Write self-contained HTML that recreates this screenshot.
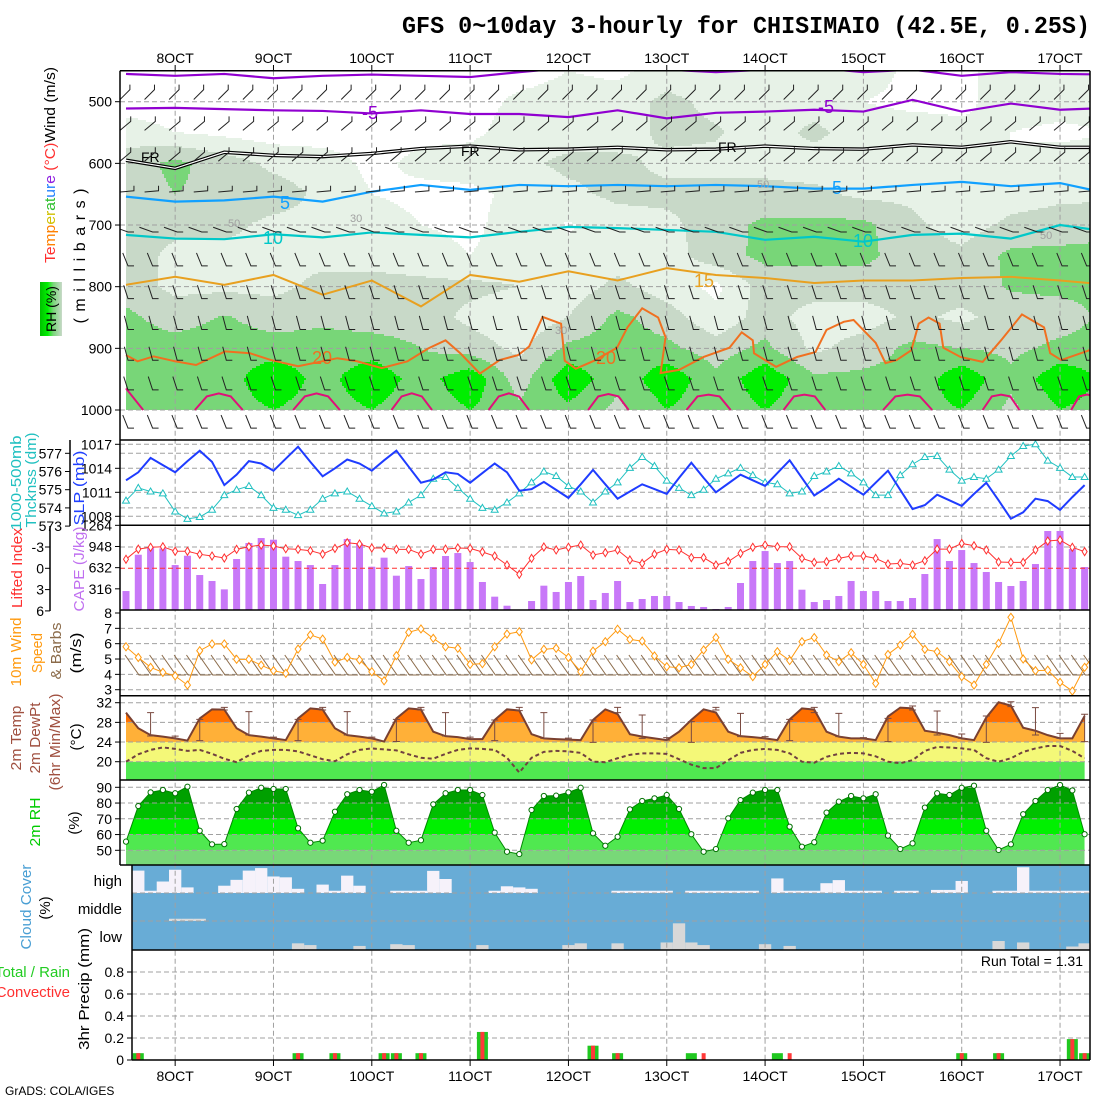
<!DOCTYPE html>
<html><head><meta charset="utf-8">
<style>
body{margin:0;background:#fff;width:1100px;height:1100px;overflow:hidden}
svg{display:block;font-family:"Liberation Sans",sans-serif}
</style></head>
<body>
<svg id="chart" width="1100" height="1100" viewBox="0 0 1100 1100">
<rect x="0" y="0" width="1100" height="1100" fill="#fff"/>
</svg>
<script>
// ---------------- DATA ----------------
const dayLabels = ["8OCT","9OCT","10OCT","11OCT","12OCT","13OCT","14OCT","15OCT","16OCT","17OCT"];
const dayTickSteps = [4,12,20,28,36,44,52,60,68,76];
const pLevels = [450,500,550,600,650,700,750,800,850,900,950,1000];
const pTicks = [500,600,700,800,900,1000];
const rhGrid = [
[20,20,40,60,60,60,60,60,75,80,80,80],
[20,20,30,75,70,55,45,45,60,80,80,80],
[20,20,25,60,65,55,45,45,72,82,80,80],
[20,20,20,45,60,45,45,45,60,80,105,90],
[20,20,20,40,45,45,45,55,65,80,82,80],
[20,20,20,25,30,40,45,55,60,80,105,90],
[20,20,25,35,25,30,40,55,60,70,80,75],
[20,20,25,40,25,25,30,55,45,60,105,90],
[20,35,40,45,35,40,40,50,35,45,60,75],
[30,40,40,55,45,28,35,40,50,75,105,85],
[25,40,40,55,55,40,40,55,75,80,75,65],
[40,55,55,45,55,45,40,40,60,75,105,90],
[35,45,52,45,55,60,62,25,35,60,75,75],
[40,40,40,45,55,75,75,60,60,75,105,90],
[40,40,55,40,55,75,75,60,40,45,75,75],
[40,30,40,40,45,75,75,60,40,60,75,80],
[25,25,40,40,45,55,60,60,55,75,75,80],
[25,25,35,40,30,40,55,60,45,70,105,90],
[40,40,30,30,40,55,75,72,60,65,75,65],
[35,40,25,40,45,60,75,75,60,75,105,90],
[35,40,30,40,45,65,75,75,75,80,85,80]];
const tm10 = [455,458,455,462,458,456,458,460,452,445,445,448,452,448,445,452,448,458,452,455,456];
const tm5  = [511,510,512,514,515,519,514,520,520,525,514,527,518,516,513,516,497,516,503,513,510];
const t0   = [595,608,582,587,589,584,576,572,578,577,574,578,577,572,576,577,570,574,565,574,574];
const t5   = [654,662,660,654,662,646,635,643,635,637,635,637,635,637,641,641,635,630,637,632,649];
const t10  = [716,722,723,715,720,712,716,720,711,703,705,708,711,724,719,727,716,714,722,700,711];
const t15  = [797,784,797,781,813,790,832,781,792,775,790,770,781,786,794,790,790,786,784,790,797];
const t20Step = [0,0.94,2.25,3.99,5.7,8.06,10.09,11.8,14.0,17.2,18.8,20.8,22.9,24.6,26.0,27.2,28.8,30.4,31.9,32.8,33.9,35.4,35.7,36.6,38.1,39.95,40.8,42.0,43.3,43.9,43.5,45.0,47.0,49.1,50.1,51.0,51.1,52.9,54.6,56.1,57.0,58.4,59.2,61.0,61.8,62.7,63.9,64.5,65.3,66.2,66.5,67.9,69.7,71.2,72.9,74.7,75.2,76.1,78.4];
const t20P = [911,921,913,921,927,905,908,919,929,916,921,932,921,900,887,908,941,919,911,897,849,860,920,933,920,899,866,835,850,882,940,935,914,899,874,887,908,930,914,906,870,857,854,891,924,919,903,860,850,860,899,914,922,887,845,866,908,919,903];
const t25Start = [5.6,13.6,21.6,29.5,37.6,45.6,53.5,61.6,69.7,76.9];
const t25End   = [9.5,17.4,24.9,32.8,40.9,49.2,56.9,65.6,72.7,79.5];
const t25Peak  = [973,973,973,973,974,975,975,975,975,975];
const barbRows = [490,540,590,640,700,755,808,858,908,956,1018];
const barbAngle = [-45,-40,-40,-5,-160,-112,-108,-105,-105,-108,-112];

const slp = [1012.5,1013.5,1015.3,1014.4,1013.5,1014.9,1016.2,1014.8,1011.9,1013.2,1014.9,1014.6,1013.7,1015.2,1016.7,1014.8,1013.0,1014.0,1015.1,1014.6,1013.7,1015.0,1016.2,1014.2,1012.2,1012.6,1013.5,1013.3,1012.2,1013.4,1014.6,1013.5,1011.2,1011.4,1012.3,1011.3,1010.3,1012.0,1013.8,1012.0,1010.2,1011.1,1012.0,1011.4,1010.8,1012.8,1014.7,1012.8,1011.0,1012.1,1013.2,1012.5,1011.8,1013.4,1015.0,1012.8,1010.6,1011.6,1012.7,1011.7,1010.7,1012.2,1013.7,1011.3,1008.9,1009.4,1010.7,1010.0,1009.3,1010.8,1012.2,1010.0,1007.7,1008.5,1010.2,1009.9,1008.8,1010.4,1011.9];
const thick = [574.4,575.1,574.9,574.8,573.8,573.4,573.5,573.9,574.7,575.0,575.2,574.7,574.0,573.9,573.6,573.9,574.5,574.8,574.9,574.5,574.1,573.7,573.8,574.3,574.7,575.6,575.7,575.1,574.5,574.0,573.9,574.3,574.8,575.4,576.0,575.75,575.2,574.9,574.3,574.9,575.4,576.2,576.8,576.3,575.5,575.1,574.7,575.0,575.6,575.9,576.2,575.8,575.4,575.3,574.8,574.9,575.75,576.0,576.3,575.9,575.4,574.7,574.7,575.8,576.4,576.8,576.85,576.1,575.5,575.7,575.6,576.1,576.85,577.4,577.5,576.6,576.2,575.7,575.7];
const slpTicks = [1017,1014,1011,1008];
const thickTicks = [577,576,575,574,573];
const cape = [283,825,935,920,671,810,522,433,308,761,1000,1074,1049,796,731,671,388,671,1059,995,646,781,512,656,462,641,806,850,716,418,199,64,0,134,363,269,418,507,149,254,433,119,164,209,209,119,60,45,15,45,403,731,880,701,731,303,119,149,209,433,283,283,134,134,179,537,1059,731,895,701,567,418,358,433,686,1179,1179,910,641];
const liftedIndex = [-1.27,-2.7,-2.96,-3.04,-2.4,-2.4,-1.97,-1.73,-1.45,-2.67,-3.04,-3.28,-3.14,-2.76,-2.67,-2.48,-2.0,-2.8,-3.6,-3.42,-2.86,-2.86,-2.67,-2.67,-2.0,-2.67,-2.7,-2.86,-2.8,-2.3,-1.73,-0.46,0.85,-1.4,-3.0,-2.58,-2.96,-3.28,-1.87,-2.2,-2.58,-1.17,-0.7,-2.0,-2.67,-2.58,-1.5,-1.5,-0.46,-0.93,-2.1,-2.96,-3.28,-3.04,-3.04,-1.4,-0.84,-0.93,-1.4,-1.73,-1.73,-1.4,-0.6,-0.7,-0.46,-1.07,-2.7,-2.7,-3.5,-3.18,-2.58,-0.89,-0.84,-0.84,-2.58,-3.84,-3.98,-2.96,-2.34];
const liTicks = ["-3","0","3","6"];
const capeTicks = [1264,948,632,316];
const windSpeed = [5.8,5.1,4.46,4.13,3.9,3.3,5.54,5.98,5.98,4.98,4.98,4.6,4.24,4.07,5.65,6.57,6.3,4.8,5.1,4.94,4.17,3.58,5.22,6.74,6.96,6.35,5.8,5.7,4.65,4.7,5.8,6.63,6.78,4.94,5.63,5.7,5.1,4.17,5.52,6.13,6.94,6.28,6.17,5.2,4.5,4.43,4.65,5.59,6.4,4.98,4.43,3.85,4.65,5.48,4.9,6.13,6.4,5.26,4.83,5.41,4.65,3.41,5.3,5.91,6.61,5.63,5.48,4.83,3.85,3.3,4.65,6.02,7.72,5.0,4.24,4.27,3.48,2.91,4.46,5.5];
const windTicks = [8,7,6,5,4,3];
const temp2m = [29.97,26.8,25.4,25.1,24.75,24.3,28.8,30.65,30.6,26.8,25.4,25.1,24.75,24.4,28.8,30.85,30.6,26.8,25.4,25.1,24.75,24.1,28.8,30.85,30.6,26.1,25.2,25.0,24.6,24.6,28.5,30.65,30.4,25.6,24.75,24.6,24.5,24.4,28.5,30.65,29.7,25.6,25.1,24.75,24.4,26.1,28.5,30.65,30.0,26.1,25.2,25.0,24.75,24.4,28.6,30.85,30.6,26.1,25.1,24.75,24.75,24.4,29.2,31.0,30.85,26.3,25.9,25.4,24.75,24.4,29.0,32.1,31.4,26.9,26.3,25.4,24.75,24.75,29.3];
const dew2m = [20.0,21.5,22.4,22.9,22.6,22.2,22.4,21.6,20.6,19.9,21.3,22.2,22.4,22.4,22.1,21.3,20.5,20.1,21.5,22.4,22.7,22.5,22.3,21.5,20.8,20.6,21.6,22.4,22.7,22.6,22.4,20.8,17.8,20.8,22.0,22.2,22.1,21.8,20.0,19.9,20.7,21.4,21.7,21.7,21.6,20.5,19.4,18.7,18.7,20.3,21.8,22.4,22.6,22.4,21.7,20.0,19.8,21.0,21.6,21.8,21.7,21.1,20.0,19.7,20.3,22.2,23.0,22.9,22.7,22.4,20.7,20.0,20.7,22.0,22.7,23.2,23.2,22.2,20.7];
const tMax6 = [null,29.97,25.2,28.6,31.06,30.18,25.0,28.6,31.06,30.18,25.0,28.6,31.06,29.97,25.0,28.48,31.06,29.97,24.8,28.48,31.06,29.5,24.9,28.14,31.06,29.84,25.09,28.6,31.06,29.84,24.9,28.82,31.33,30.31,25.63,29.3,32.2,30.99,25.77,29.64];
const tMin6 = [null,25.23,24.75,24.28,30.52,25.43,24.75,24.28,30.52,25.43,24.75,24.1,30.52,25.23,24.6,24.28,30.4,24.75,24.5,23.94,29.97,24.75,24.4,23.94,30.52,25.09,24.75,24.28,29.97,25.09,24.75,24.08,30.52,25.43,24.75,23.94,31.19,25.43,24.75,24.08];
const tempTicks = [32,28,24,20];
const rh2m = [55.5,78.1,86.8,88.3,86.2,90.4,62.4,53.8,53.9,76.2,86.6,89.7,88.9,88.9,64.0,54.8,56.1,74.5,85.6,88.3,87.2,91.5,62.4,54.8,56.4,79.2,86.2,88.3,88.3,85.1,61.2,49.1,47.6,75.6,84.5,84.7,86.8,89.7,60.8,52.9,58.6,76.0,81.3,83.0,85.1,76.2,60.2,49.1,50.8,70.3,81.9,86.6,88.3,88.3,65.0,52.3,55.1,73.9,80.9,84.5,83.0,85.6,59.3,50.8,54.4,77.1,86.2,85.1,89.7,91.0,62.4,50.2,53.8,72.9,81.3,88.3,91.5,88.0,60.2];
const rhTicks = [90,80,70,60,50];
const cloudHigh = [0,80,8,41,83,20,0,0,26,47,80,89,59,56,15,0,30,8,62,26,0,0,8,8,8,79,50,0,0,0,8,24,20,15,0,0,0,0,0,0,8,8,8,8,8,0,8,8,8,8,8,8,0,52,8,8,8,35,46,8,8,8,0,8,8,0,11,11,43,0,0,8,8,92,8,8,8,8,8];
const cloudMid = [0,0,0,0,8,8,8,0,0,0,0,0,0,0,0,0,0,0,0,0,0,0,0,0,0,0,0,0,0,0,0,0,0,0,0,0,0,0,0,0,0,0,0,0,0,0,0,0,0,0,0,0,0,0,0,0,0,0,0,0,0,0,0,0,0,0,0,0,0,0,0,0,0,0,0,0,0,0,0];
const cloudLow = [0,0,0,0,0,0,0,0,0,0,0,0,0,0,23,17,0,0,0,14,0,0,20,17,0,0,0,0,0,17,0,0,0,0,0,0,17,23,0,0,23,0,0,0,26,92,26,17,0,0,0,0,20,0,14,0,0,0,0,0,0,0,0,0,0,0,0,0,0,0,0,31,0,26,0,0,0,12,23];
const precipTotal = [0,0.062,0,0,0,0,0,0,0,0,0,0,0,0,0.062,0,0,0.062,0,0,0,0.062,0.062,0,0.062,0,0,0,0,0.255,0,0,0,0,0,0,0,0,0.13,0,0.062,0,0,0,0,0,0.062,0,0,0,0,0,0,0.062,0,0,0,0,0,0,0,0,0,0,0,0,0,0,0.062,0,0,0.062,0,0,0,0,0,0.19,0.062];
const precipConv  = [0,0.062,0,0,0,0,0,0,0,0,0,0,0,0,0.062,0,0,0.062,0,0,0,0.062,0.062,0,0.062,0,0,0,0,0.255,0,0,0,0,0,0,0,0,0.13,0,0.062,0,0,0,0,0,0,0.062,0,0,0,0,0,0,0.062,0,0,0,0,0,0,0,0,0,0,0,0,0,0.062,0,0,0.062,0,0,0,0,0,0.19,0.062];
const precipTicks = ["0.8","0.6","0.4","0.2","0"];
const precipTickVals = [0.8,0.6,0.4,0.2,0];
const runTotal = "1.31";

// ---------------- HELPERS ----------------
const svg = document.getElementById('chart');
const NS = 'http://www.w3.org/2000/svg';
function mk(parent, tag, attrs, name){
  const el = document.createElementNS(NS, tag);
  for (const k in attrs) { el.setAttribute(k, attrs[k]); }
  
  
  parent.appendChild(el);
  return el;
}
function txt(parent, x, y, s, attrs, name){
  const el = mk(parent, 'text', Object.assign({x:x, y:y}, attrs), name);
  el.textContent = s;
  return el;
}
const xs = i => 126 + 12.29 * i;
const yP = p => 101.7 + (p - 500) * 0.6166;
const ySLP = v => 444.3 + (1017 - v) * 8.0;
const yTh = v => 453.3 + (577 - v) * 18.2;
const yLI = v => 568.3 + v * 7.1;
const yCape = v => 610 - v * 0.067;
const yW = v => 613 + (8 - v) * 15.34;
const yT = v => 702.7 + (32 - v) * 4.917;
const yRH = v => 787.3 + (90 - v) * 1.575;
const yPr = v => 1060 - v * 110;

const defs = mk(svg, 'defs', {}, 'definitions');
function clip(id, x, y, w, h){
  const c = mk(defs, 'clipPath', {id:id}, id);
  mk(c, 'rect', {x:x, y:y, width:w, height:h}, id + '-rect');
}
clip('clipTop', 120, 70.7, 970, 369.3);
clip('clipSLP', 120, 440, 970, 85.3);
clip('clipW', 120, 610, 970, 85.7);

// ---------------- TOP PANEL RH FILL ----------------
const gRH = mk(svg, 'g', {'clip-path':'url(#clipTop)'}, 'rh-contour-fill');
const rhColors = ['none','#e7f2e7','#c8d9c8','#78d678','#00ee00'];
function rhAt(s, p){
  let c = s / 4, l = (p - 450) / 50;
  c = Math.max(0, Math.min(19.999, c));
  l = Math.max(0, Math.min(10.999, l));
  const c0 = Math.floor(c), l0 = Math.floor(l), fc = c - c0, fl = l - l0;
  const a = rhGrid[c0][l0] * (1 - fc) + rhGrid[c0 + 1][l0] * fc;
  const b = rhGrid[c0][l0 + 1] * (1 - fc) + rhGrid[c0 + 1][l0 + 1] * fc;
  return a * (1 - fl) + b * fl;
}
function cls(v){ return v < 30 ? 0 : v < 50 ? 1 : v < 70 ? 2 : v < 90 ? 3 : 4; }
for (let y = 70; y < 410; y += 2){
  const p = 450 + (y + 1 - 70.7) / 0.6166;
  let start = 126, cur = null;
  for (let x = 126; x <= 1092; x += 2){
    const c = x < 1090 ? cls(rhAt((x + 1 - 126) / 12.29, p)) : -1;
    if (c !== cur){
      if (cur > 0) mk(gRH, 'rect', {x:start, y:y, width:x - start, height:2, fill:rhColors[cur]}, 'rh-cell');
      start = x; cur = c;
    }
  }
}

// ---------------- PANEL FILLS (temp, rh, cloud) ----------------
const tempArea = 'M' + xs(0) + ',780 ' + temp2m.map((v,i)=>'L' + xs(i) + ',' + yT(v)).join(' ') + ' L' + xs(78) + ',780 Z';
const tc = mk(defs, 'clipPath', {id:'clipTemp'}, 'temp-clip');
mk(tc, 'path', {d:tempArea}, 'temp-clip-shape');
const gTF = mk(svg, 'g', {}, 'temp-fill');
mk(gTF, 'rect', {x:xs(0), y:yT(20), width:xs(78)-xs(0), height:780-yT(20), fill:'#50e850'}, 'temp-band-below-20');
mk(gTF, 'rect', {x:xs(0), y:yT(24), width:xs(78)-xs(0), height:yT(20)-yT(24), fill:'#f4f878'}, 'temp-band-20-24');
const gTC = mk(gTF, 'g', {'clip-path':'url(#clipTemp)'}, 'temp-area');
mk(gTC, 'rect', {x:xs(0), y:yT(28), width:xs(78)-xs(0), height:yT(24)-yT(28), fill:'#ffb038'}, 'temp-band-24-28');
mk(gTC, 'rect', {x:xs(0), y:696, width:xs(78)-xs(0), height:yT(28)-696, fill:'#ff7000'}, 'temp-band-above-28');
const rhArea = 'M' + xs(0) + ',865 ' + rh2m.map((v,i)=>'L' + xs(i) + ',' + yRH(v)).join(' ') + ' L' + xs(78) + ',865 Z';
const rc = mk(defs, 'clipPath', {id:'clipRH'}, 'rh-clip');
mk(rc, 'path', {d:rhArea}, 'rh-clip-shape');
const gRF = mk(svg, 'g', {'clip-path':'url(#clipRH)'}, 'rh2m-fill');
const rhBands = [[40,50,'#78d878'],[50,60,'#50e850'],[60,70,'#00f000'],[70,80,'#00c000'],[80,100,'#00a000']];
rhBands.forEach(b => mk(gRF, 'rect', {x:xs(0), y:yRH(b[1]), width:xs(78)-xs(0), height:yRH(b[0])-yRH(b[1]), fill:b[2]}, 'rh-band'));
const gCl = mk(svg, 'g', {}, 'cloud-cover');
mk(gCl, 'rect', {x:132, y:865, width:958, height:85, fill:'#68acd6'}, 'cloud-background');
function cloudRow(arr, base, h, col, nm){
  arr.forEach((v,k)=>{ if (v > 0) mk(gCl, 'rect', {x:xs(k)-6.15, y:base - v/100*h, width:12.3, height:v/100*h, fill:col}, nm); });
}
cloudRow(cloudHigh, 893, 28, '#f6f2fa', 'cloud-high-block');
cloudRow(cloudMid, 921, 28, '#dcdcdc', 'cloud-middle-block');
cloudRow(cloudLow, 950, 29, '#d8d8d8', 'cloud-low-block');

// ---------------- GRID ----------------
const gGrid = mk(svg, 'g', {stroke:'#a0a0a0', 'stroke-width':1, 'stroke-dasharray':'5,3', fill:'none'}, 'grid');
dayTickSteps.forEach(s => mk(gGrid, 'line', {x1:xs(s), y1:70.7, x2:xs(s), y2:1060}, 'day-gridline'));
pTicks.forEach(p => mk(gGrid, 'line', {x1:120, y1:yP(p), x2:1090, y2:yP(p)}, 'pressure-gridline'));
slpTicks.forEach(v => mk(gGrid, 'line', {x1:120, y1:ySLP(v), x2:1090, y2:ySLP(v)}, 'slp-gridline'));
[577,574].forEach(v => mk(gGrid, 'line', {x1:120, y1:yTh(v), x2:1090, y2:yTh(v)}, 'thickness-gridline'));
mk(gGrid, 'line', {x1:120, y1:yLI(-3), x2:1090, y2:yLI(-3)}, 'li-gridline');
[7,6,5,4,3].forEach(v => mk(gGrid, 'line', {x1:120, y1:yW(v), x2:1090, y2:yW(v)}, 'wind-gridline'));
tempTicks.forEach(v => mk(gGrid, 'line', {x1:120, y1:yT(v), x2:1090, y2:yT(v)}, 'temp-gridline'));
rhTicks.forEach(v => mk(gGrid, 'line', {x1:120, y1:yRH(v), x2:1090, y2:yRH(v)}, 'rh-gridline'));
[893,921].forEach(y => mk(gGrid, 'line', {x1:132, y1:y, x2:1090, y2:y}, 'cloud-gridline'));
[0.8,0.6,0.4,0.2].forEach(v => mk(gGrid, 'line', {x1:132, y1:yPr(v), x2:1090, y2:yPr(v)}, 'precip-gridline'));

// ---------------- TOP PANEL LINES ----------------
const gTL = mk(svg, 'g', {'clip-path':'url(#clipTop)', fill:'none'}, 'temperature-contours');
function colLine(arr, col, w, nm){
  const pts = arr.map((p,c)=> xs(c*4) + ',' + yP(p)).join(' ');
  return mk(gTL, 'polyline', {points:pts, stroke:col, 'stroke-width':w}, nm);
}
colLine(tm10, '#9000d0', 2.2, 'contour-minus10');
colLine(tm5, '#9000d0', 2.2, 'contour-minus5');
colLine(t0, '#000', 3.5, 'contour-freezing-outer');
colLine(t0, '#fff', 1.2, 'contour-freezing-inner');
colLine(t5, '#10a0ff', 2.2, 'contour-5');
colLine(t10, '#00c8c8', 2.2, 'contour-10');
colLine(t15, '#e8a020', 2, 'contour-15');
mk(gTL, 'polyline', {points:t20Step.map((s,k)=> xs(s) + ',' + yP(t20P[k])).join(' '), stroke:'#f07020', 'stroke-width':2}, 'contour-20');
mk(gTL, 'polyline', {points: xs(0)+','+yP(965)+' '+xs(1.4)+','+yP(1000), stroke:'#e0107a', 'stroke-width':2}, 'contour-25');
t25Start.forEach((s,k)=>{
  const e = t25End[k], w = e - s, pk = t25Peak[k];
  const pts = [[s,1000],[s+0.25*w,978],[s+0.5*w,pk],[e-0.25*w,978],[e,1000]].map(q=> xs(q[0]) + ',' + yP(q[1])).join(' ');
  mk(gTL, 'polyline', {points:pts, stroke:'#e0107a', 'stroke-width':2}, 'contour-25');
});
const gCL = mk(svg, 'g', {'font-size':18}, 'contour-labels');
[[362,119,'-5','#9000d0'],[818,113,'-5','#9000d0'],[141,162,'FR','#000'],[461,156,'FR','#000'],[718,152,'FR','#000'],
 [280,209,'5','#10a0ff'],[832,194,'5','#10a0ff'],[263,244,'10','#00c8c8'],[853,247,'10','#00c8c8'],[694,287,'15','#e8a020'],
 [312,364,'20','#f07020'],[596,364,'20','#f07020']].forEach(l => {
  const t = txt(gCL, l[0], l[1], l[2], {fill:l[3]}, 'contour-label');
  if (l[2] === 'FR') { t.setAttribute('font-size', 14); }
});
[[228,227,'50'],[350,222,'30'],[555,334,'30'],[1040,239,'50'],[757,188,'50']].forEach(l => txt(gCL, l[0], l[1], l[2], {fill:'#a0a0a0', 'font-size':11}, 'rh-contour-label'));

// top wind barbs
const gB = mk(svg, 'g', {'clip-path':'url(#clipTop)', stroke:'#222', 'stroke-width':1, fill:'none'}, 'upper-wind-barbs');
barbRows.forEach((p,r)=>{
  const a = barbAngle[r] * Math.PI / 180, L = 14;
  for (let s = 0; s <= 80; s += 2){
    const ang = barbAngle[r];
    let d;
    if (ang > -90) {
      const ax = xs(s) - 6, ay = yP(p) + 4;
      const bx = ax + L * Math.cos(a), by = ay + L * Math.sin(a);
      d = 'M' + ax + ',' + ay + ' L' + bx + ',' + by + ' l0,-5';
    } else {
      const ax = xs(s) + 2, ay = yP(p) + 7;
      const bx = ax + L * Math.cos(a), by = ay + L * Math.sin(a);
      d = 'M' + bx + ',' + by + ' L' + ax + ',' + ay + ' l6,0';
    }
    mk(gB, 'path', {d:d}, 'wind-barb');
  }
});

// ---------------- SLP / THICKNESS ----------------
const gS = mk(svg, 'g', {'clip-path':'url(#clipSLP)', fill:'none'}, 'slp-thickness');
mk(gS, 'polyline', {points:thick.map((v,i)=> xs(i)+','+yTh(v)).join(' '), stroke:'#20c0c0', 'stroke-width':1}, 'thickness-line');
thick.forEach((v,i)=>{ const x = xs(i), y = yTh(v);
  mk(gS, 'path', {d:'M'+x+','+(y-3.5)+' L'+(x+3.5)+','+(y+2.5)+' L'+(x-3.5)+','+(y+2.5)+' Z', stroke:'#20c0c0', fill:'#fff'}, 'thickness-marker'); });
mk(gS, 'polyline', {points:slp.map((v,i)=> xs(i)+','+ySLP(v)).join(' '), stroke:'#1f3cff', 'stroke-width':2}, 'slp-line');

// ---------------- CAPE / LI ----------------
const gC = mk(svg, 'g', {}, 'cape-li');
cape.forEach((v,i)=>{ if (v > 0) mk(gC, 'rect', {x:xs(i)-3.5, y:yCape(v), width:7, height:610-yCape(v), fill:'#c878f8'}, 'cape-bar'); });
mk(gC, 'line', {x1:120, y1:yLI(0), x2:1090, y2:yLI(0), stroke:'#ff3030', 'stroke-dasharray':'5,3'}, 'li-zero-line');
mk(gC, 'polyline', {points:liftedIndex.map((v,i)=> xs(i)+','+yLI(v)).join(' '), stroke:'#ff3030', fill:'none'}, 'li-line');
liftedIndex.forEach((v,i)=>{ const x = xs(i), y = yLI(v);
  mk(gC, 'path', {d:'M'+x+','+(y-4)+' L'+(x+2.5)+','+y+' L'+x+','+(y+4)+' L'+(x-2.5)+','+y+' Z', stroke:'#ff3030', fill:'#fff'}, 'li-marker'); });

// ---------------- 10m WIND ----------------
const gW = mk(svg, 'g', {'clip-path':'url(#clipW)'}, 'wind10m');
for (let i = 0; i <= 79; i++){
  const ax = xs(i) + 13, ay = 675;
  mk(gW, 'path', {d:'M'+(ax-14)+','+(ay-20)+' L'+ax+','+ay+' l10,0', stroke:'#8b6b4a', fill:'none'}, 'surface-wind-barb');
}
mk(gW, 'polyline', {points:windSpeed.map((v,i)=> xs(i)+','+yW(v)).join(' '), stroke:'#ff9a10', fill:'none'}, 'wind-speed-line');
windSpeed.forEach((v,i)=>{ const x = xs(i), y = yW(v);
  mk(gW, 'path', {d:'M'+x+','+(y-4)+' L'+(x+3)+','+y+' L'+x+','+(y+4)+' L'+(x-3)+','+y+' Z', stroke:'#ff9a10', fill:'#fff'}, 'wind-speed-marker'); });

// ---------------- TEMP LINES ----------------
const gT = mk(svg, 'g', {fill:'none'}, 'temp-lines');
mk(gT, 'polyline', {points:dew2m.map((v,i)=> xs(i)+','+yT(v)).join(' '), stroke:'#704040', 'stroke-width':2, 'stroke-dasharray':'4,3'}, 'dewpoint-line');
mk(gT, 'polyline', {points:temp2m.map((v,i)=> xs(i)+','+yT(v)).join(' '), stroke:'#7a4030', 'stroke-width':2}, 'temp-line');
tMax6.forEach((mx,j)=>{ if (mx === null) return; const x = xs(j*2), y1 = yT(mx), y2 = yT(tMin6[j]);
  mk(gT, 'path', {d:'M'+x+','+y1+' L'+x+','+y2+' M'+(x-3.5)+','+y1+' l7,0 M'+(x-3.5)+','+y2+' l7,0', stroke:'#7a4a40', 'stroke-width':1}, 'minmax-whisker'); });

// ---------------- RH LINE ----------------
const gR = mk(svg, 'g', {fill:'none'}, 'rh2m-line-group');
mk(gR, 'polyline', {points:rh2m.map((v,i)=> xs(i)+','+yRH(v)).join(' '), stroke:'#008800', 'stroke-width':1}, 'rh2m-line');
rh2m.forEach((v,i)=> mk(gR, 'circle', {cx:xs(i), cy:yRH(v), r:2.6, stroke:'#007000', fill:'#fff'}, 'rh2m-marker'));

// ---------------- PRECIP ----------------
const gP = mk(svg, 'g', {}, 'precip');
precipTotal.forEach((v,k)=>{ if (v > 0) mk(gP, 'rect', {x:xs(k)-5.5, y:yPr(v), width:11, height:1060-yPr(v), fill:'#20c820'}, 'precip-total-bar'); });
precipConv.forEach((v,k)=>{ if (v > 0) mk(gP, 'rect', {x:xs(k)-2, y:yPr(v), width:4, height:1060-yPr(v), fill:'#ff3838'}, 'precip-convective-bar'); });
txt(gP, 1083, 966, 'Run Total = ' + runTotal, {'font-size':14, 'text-anchor':'end', fill:'#000'}, 'run-total-label');

// ---------------- FRAMES ----------------
const gF = mk(svg, 'g', {stroke:'#000', 'stroke-width':1.5, fill:'none'}, 'frames');
mk(gF, 'line', {x1:120, y1:70.7, x2:1090, y2:70.7}, 'frame-top');
[440,525.3,610,695.7,780,865].forEach(y => mk(gF, 'line', {x1:120, y1:y, x2:1090, y2:y}, 'panel-separator'));
[950,1060].forEach(y => mk(gF, 'line', {x1:132, y1:y, x2:1090, y2:y}, 'panel-separator'));
mk(gF, 'line', {x1:120, y1:70.7, x2:120, y2:865}, 'left-axis');
mk(gF, 'line', {x1:132, y1:865, x2:132, y2:1060}, 'left-axis-lower');
mk(gF, 'line', {x1:1090, y1:70.7, x2:1090, y2:1060}, 'right-axis');
mk(gF, 'line', {x1:70, y1:440, x2:70, y2:526}, 'thickness-axis');
mk(gF, 'line', {x1:50, y1:526, x2:50, y2:611}, 'li-axis');

// ---------------- TICK LABELS ----------------
const gTk = mk(svg, 'g', {'font-size':14, fill:'#000'}, 'tick-labels');
const gTm = mk(svg, 'g', {stroke:'#000', 'stroke-width':1}, 'tick-marks');
function ylab(x, y, s, nm, tx){ txt(gTk, x, y + 5, s, {'text-anchor':'end'}, nm); mk(gTm, 'line', {x1:tx-5, y1:y, x2:tx, y2:y}, nm + '-tick'); }
pTicks.forEach(p => ylab(112, yP(p), String(p), 'pressure-tick-label', 120));
slpTicks.forEach(v => ylab(112, ySLP(v), String(v), 'slp-tick-label', 120));
thickTicks.forEach(v => ylab(62, yTh(v), String(v), 'thickness-tick-label', 70));
liTicks.forEach((s,k)=> ylab(44, yLI(Number(s)), s, 'li-tick-label', 50));
capeTicks.forEach(v => ylab(112, yCape(v), String(v), 'cape-tick-label', 120));
windTicks.forEach(v => ylab(112, yW(v), String(v), 'wind-tick-label', 120));
tempTicks.forEach(v => ylab(112, yT(v), String(v), 'temp-tick-label', 120));
rhTicks.forEach(v => ylab(112, yRH(v), String(v), 'rh-tick-label', 120));
precipTicks.forEach((s,k)=> ylab(124, yPr(precipTickVals[k]), s, 'precip-tick-label', 132));
dayLabels.forEach((s,k)=>{
  const x = xs(dayTickSteps[k]);
  txt(gTk, x, 63, s, {'text-anchor':'middle'}, 'top-date-label');
  txt(gTk, x, 1081, s, {'text-anchor':'middle'}, 'bottom-date-label');
  mk(gTm, 'line', {x1:x, y1:65, x2:x, y2:70.7}, 'top-date-tick');
  mk(gTm, 'line', {x1:x, y1:1060, x2:x, y2:1066}, 'bottom-date-tick');
});
</script>

<svg style="position:absolute;left:0;top:0" width="1100" height="1100" viewBox="0 0 1100 1100" font-family="Liberation Sans, sans-serif">
<text x="402" y="33" font-family="Liberation Mono, monospace" font-weight="bold" font-size="24" textLength="688" lengthAdjust="spacingAndGlyphs">GFS 0~10day 3-hourly for CHISIMAIO (42.5E, 0.25S)</text>
<text transform="rotate(-90 50 165)" x="50" y="170" text-anchor="middle" font-size="15" textLength="196" lengthAdjust="spacingAndGlyphs"><tspan fill="#ff3030">Te</tspan><tspan fill="#ff8000">mp</tspan><tspan fill="#d0c000">er</tspan><tspan fill="#30c030">at</tspan><tspan fill="#2080ff">ur</tspan><tspan fill="#9020e0">e</tspan><tspan fill="#ff3030"> (°C)</tspan><tspan fill="#000">Wind (m/s)</tspan></text>
<defs><linearGradient id="rhGrad" x1="0" x2="1" y1="0" y2="0"><stop offset="0" stop-color="#00c000"/><stop offset="0.35" stop-color="#00f000"/><stop offset="0.6" stop-color="#78d678"/><stop offset="1" stop-color="#c8d9c8"/></linearGradient></defs>
<rect x="40" y="282" width="22" height="54" fill="url(#rhGrad)"/>
<text transform="rotate(-90 51 309)" x="51" y="314" text-anchor="middle" font-size="14">RH (%)</text>
<text transform="rotate(-90 80 256)" x="80" y="261" text-anchor="middle" font-size="16" textLength="135" lengthAdjust="spacing">(millibars)</text>
<text transform="rotate(-90 16 483)" x="16" y="488" text-anchor="middle" font-size="15" fill="#20c0c0" textLength="95" lengthAdjust="spacingAndGlyphs">1000-500mb</text>
<text transform="rotate(-90 31 480)" x="31" y="485" text-anchor="middle" font-size="15" fill="#20c0c0" textLength="95" lengthAdjust="spacingAndGlyphs">Thcknss (dm)</text>
<text transform="rotate(-90 79 488)" x="79" y="493" text-anchor="middle" font-size="15" fill="#2040ff" textLength="75" lengthAdjust="spacingAndGlyphs">SLP (mb)</text>
<text transform="rotate(-90 17 568)" x="17" y="573" text-anchor="middle" font-size="15" fill="#ff3030" textLength="80" lengthAdjust="spacingAndGlyphs">Lifted Index</text>
<text transform="rotate(-90 79 569)" x="79" y="574" text-anchor="middle" font-size="15" fill="#c070f0" textLength="85" lengthAdjust="spacingAndGlyphs">CAPE (J/kg)</text>
<text transform="rotate(-90 16 652)" x="16" y="657" text-anchor="middle" font-size="15" fill="#ff9a10" textLength="69" lengthAdjust="spacingAndGlyphs">10m Wind</text>
<text transform="rotate(-90 37 653)" x="37" y="658" text-anchor="middle" font-size="15" fill="#ff9a10" textLength="40" lengthAdjust="spacingAndGlyphs">Speed</text>
<text transform="rotate(-90 56 651)" x="56" y="656" text-anchor="middle" font-size="15" fill="#8b6b4a" textLength="57" lengthAdjust="spacingAndGlyphs">&amp; Barbs</text>
<text transform="rotate(-90 76 653)" x="76" y="658" text-anchor="middle" font-size="15" fill="#000" textLength="41" lengthAdjust="spacingAndGlyphs">(m/s)</text>
<text transform="rotate(-90 16 738)" x="16" y="743" text-anchor="middle" font-size="15" fill="#a05040" textLength="65" lengthAdjust="spacingAndGlyphs">2m Temp</text>
<text transform="rotate(-90 35 738)" x="35" y="743" text-anchor="middle" font-size="15" fill="#a05040" textLength="71" lengthAdjust="spacingAndGlyphs">2m DewPt</text>
<text transform="rotate(-90 55 742)" x="55" y="747" text-anchor="middle" font-size="15" fill="#a05040" textLength="97" lengthAdjust="spacingAndGlyphs">(6hr Min/Max)</text>
<text transform="rotate(-90 76 737)" x="76" y="742" text-anchor="middle" font-size="15" fill="#000" textLength="27" lengthAdjust="spacingAndGlyphs">(°C)</text>
<text transform="rotate(-90 35 822)" x="35" y="827" text-anchor="middle" font-size="15" fill="#00cc00" textLength="49" lengthAdjust="spacingAndGlyphs">2m RH</text>
<text transform="rotate(-90 74 823)" x="74" y="828" text-anchor="middle" font-size="15" fill="#000">(%)</text>
<text transform="rotate(-90 26 907)" x="26" y="912" text-anchor="middle" font-size="15" fill="#4a9fd4" textLength="85" lengthAdjust="spacingAndGlyphs">Cloud Cover</text>
<text transform="rotate(-90 45 908)" x="45" y="913" text-anchor="middle" font-size="15" fill="#000">(%)</text>
<text x="122" y="886" text-anchor="end" font-size="15">high</text>
<text x="122" y="914" text-anchor="end" font-size="15">middle</text>
<text x="122" y="942" text-anchor="end" font-size="15">low</text>
<text x="70" y="977" text-anchor="end" font-size="15" fill="#22cc22">Total / Rain</text>
<text x="70" y="997" text-anchor="end" font-size="15" fill="#ff3030">Convective</text>
<text transform="rotate(-90 84 989)" x="84" y="994" text-anchor="middle" font-size="15" fill="#000" textLength="122" lengthAdjust="spacingAndGlyphs">3hr Precip (mm)</text>
<text x="5" y="1095" font-size="12" fill="#000">GrADS: COLA/IGES</text>
</svg>
</body></html>
